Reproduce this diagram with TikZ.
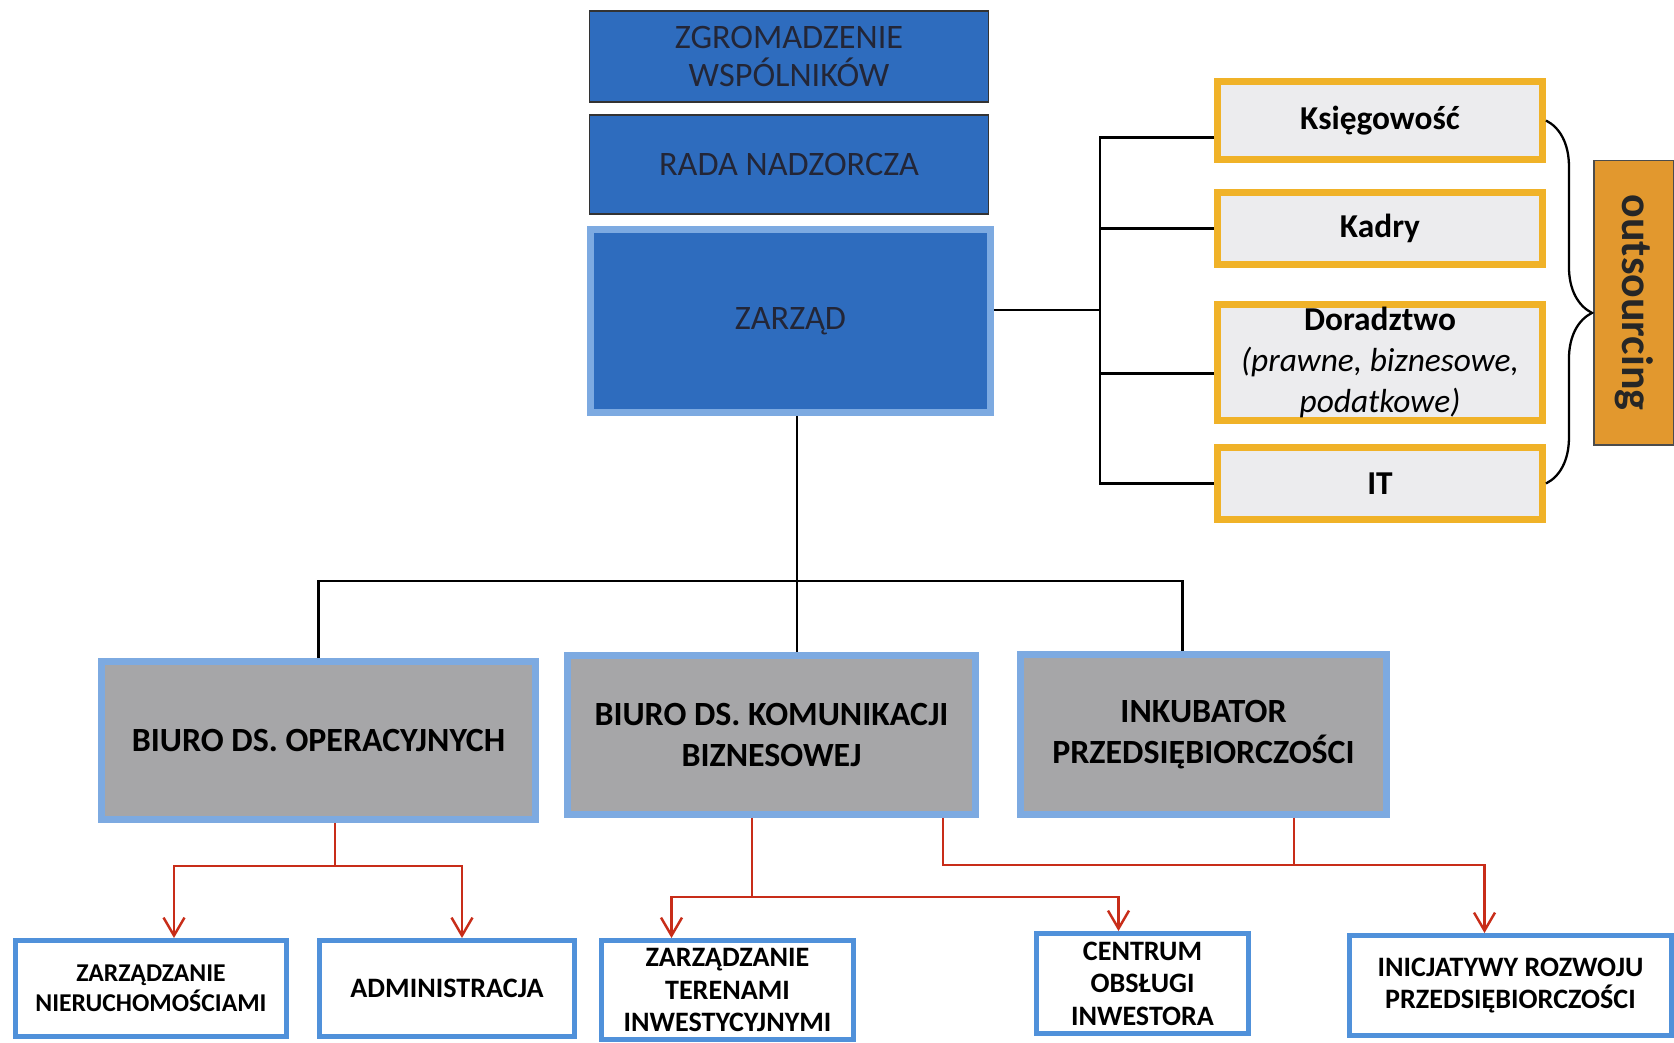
\documentclass[tikz,border=0pt]{standalone}
\usepackage{fontspec}
\setmainfont{Carlito}
\usetikzlibrary{arrows.meta,calc,decorations.pathreplacing}

\definecolor{zblue}{RGB}{46,108,190}
\definecolor{zlight}{RGB}{125,170,225}
\definecolor{gbox}{RGB}{166,166,168}
\definecolor{wblue}{RGB}{80,145,218}
\definecolor{gold}{RGB}{240,178,40}
\definecolor{ygrey}{RGB}{236,236,238}
\definecolor{orng}{RGB}{226,152,46}
\definecolor{rline}{RGB}{200,45,25}
\definecolor{ztext}{RGB}{35,38,55}

\begin{document}
\begin{tikzpicture}[x=0.02cm,y=-0.02cm,
  topbox/.style={draw=black!80,fill=zblue,line width=0.6pt,text=ztext,align=center,
    font=\fontsize{19.5}{22}\selectfont,minimum width=8cm,inner sep=0pt},
  greybox/.style={draw=zlight,fill=gbox,line width=0.14cm,align=center,
    font=\bfseries\fontsize{19.3}{23}\selectfont,inner sep=0pt},
  whitebox/.style={draw=wblue,fill=white,line width=0.1cm,align=center,
    font=\bfseries\fontsize{16}{18.5}\selectfont,inner sep=0pt},
  yellowbox/.style={draw=gold,fill=ygrey,line width=0.14cm,align=center,
    font=\bfseries\fontsize{19}{23.5}\selectfont,minimum width=6.5cm,inner sep=0pt},
  outbox/.style={draw=black!70,fill=orng,line width=0.6pt,text=black!85,
    font=\bfseries\fontsize{25}{28}\selectfont,minimum width=5.7cm,minimum height=1.6cm},
  link/.style={draw=black,line width=1.6pt},
  redlink/.style={draw=rline,line width=1.4pt},
  redarrow/.style={redlink,-{Straight Barb[length=3.6mm,width=4.2mm]}},
  bracket/.style={draw=black,line width=1.3pt,decorate,
    decoration={brace,amplitude=0.92cm,aspect=0.53}}]
\useasboundingbox (0,0) rectangle (1674,1042);

% organy spolki
\node[topbox,minimum height=1.82cm] (zgrom) at (789,56.5) {ZGROMADZENIE\\WSPÓLNIKÓW};
\node[topbox,minimum height=1.98cm] (rada) at (789,164.5) {RADA NADZORCZA};
\node[topbox,draw=zlight,line width=0.14cm,minimum height=3.66cm] (zarzad) at (790.5,321) {ZARZĄD};

% outsourcing
\node[yellowbox,minimum height=1.56cm] (ksieg) at (1380,120.5) {Księgowość};
\node[yellowbox,minimum height=1.44cm] (kadry) at (1380,228.5) {Kadry};
\node[yellowbox,minimum height=2.32cm] (dorad) at (1380,362.5)
  {Doradztwo\\\mdseries\itshape (prawne, biznesowe,\\\mdseries\itshape podatkowe)};
\node[yellowbox,minimum height=1.44cm] (it) at (1380,483.5) {IT};
\node[outbox,rotate=-90] (outs) at (1634,302.5) {outsourcing};

% biura
\node[greybox,minimum width=8.68cm,minimum height=3.16cm] (oper) at (318.5,740.5) {BIURO DS. OPERACYJNYCH};
\node[greybox,minimum width=8.16cm,minimum height=3.18cm] (kom) at (771.5,735) {BIURO DS. KOMUNIKACJI\\BIZNESOWEJ};
\node[greybox,minimum width=7.32cm,minimum height=3.2cm] (ink) at (1203.5,734.5) {INKUBATOR\\PRZEDSIĘBIORCZOŚCI};

% zadania
\node[whitebox,font=\bfseries\fontsize{14.6}{17}\selectfont,minimum width=5.42cm,minimum height=1.92cm] (nier) at (151,988.5) {ZARZĄDZANIE\\NIERUCHOMOŚCIAMI};
\node[whitebox,minimum width=5.1cm,minimum height=1.92cm] (adm) at (447,988.5) {ADMINISTRACJA};
\node[whitebox,minimum width=5.04cm,minimum height=1.98cm] (teren) at (727.5,990) {ZARZĄDZANIE\\TERENAMI\\INWESTYCYJNYMI};
\node[whitebox,minimum width=4.24cm,minimum height=2cm] (centrum) at (1142.5,983.5) {CENTRUM\\OBSŁUGI\\INWESTORA};
\node[whitebox,minimum width=6.44cm,minimum height=2cm] (inicj) at (1510.5,985.5) {INICJATYWY ROZWOJU\\PRZEDSIĘBIORCZOŚCI};

% zarzad -> biura
\coordinate (hub) at (797,581);
\draw[link] (hub |- zarzad.south) -- (hub |- kom.north);
\draw[link] (oper.north) |- (hub) -| ($(ink.north)+(-21,0)$);

% zarzad -> outsourcing
\coordinate (bus) at (1100,310);
\draw[link] (zarzad.east |- bus) -- (bus);
\draw[link] ($(ksieg.west)+(0,17)$) -| (bus) |- (it.west);
\draw[link] (kadry.west) -- (kadry.west -| bus);
\draw[link] ($(dorad.west)+(0,11)$) coordinate (d) -- (d -| bus);
\draw[bracket] (ksieg.east) -- (it.east);

% biura -> zadania
\coordinate (opfork) at (335,866);
\draw[redlink] (opfork |- oper.south) -- (opfork);
\draw[redarrow] (opfork) -| ($(nier.north)+(23,0)$);
\draw[redarrow] (opfork) -| ($(adm.north)+(15,0)$);

\coordinate (kfork) at (752,897);
\draw[redlink] (kfork |- kom.south) -- (kfork);
\draw[redarrow] (kfork) -| ($(teren.north)+(-56,0)$);
\draw[redarrow] (kfork) -| ($(centrum.north)+(-24,0)$);

\coordinate (ifork) at (1294,865);
\draw[redlink] (ifork |- ink.south) -- (ifork);
\draw[redarrow] ($(kom.south)+(171.5,0)$) |- (ifork) -| ($(inicj.north)+(-26,0)$);
\end{tikzpicture}
\end{document}
